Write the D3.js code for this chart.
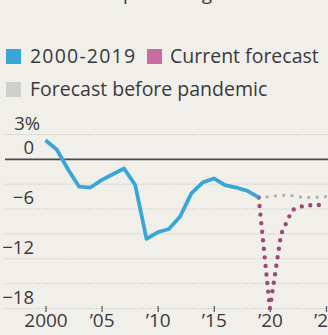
<!DOCTYPE html>
<html>
<head>
<meta charset="utf-8">
<script src="https://cdn.jsdelivr.net/npm/d3@7"></script>
<style>
  html, body { margin: 0; padding: 0; background: #f1efea; }
  svg { display: block; }
  text { font-family: "Open Sans", "Noto Sans", sans-serif; fill: #3a3a3a; }
</style>
</head>
<body>
<svg id="chart" width="328" height="335"></svg>
<script>
// Federal budget balance, percent of GDP
const histYears = [2000, 2001, 2002, 2003, 2004, 2005, 2006, 2007, 2008, 2009,
                   2010, 2011, 2012, 2013, 2014, 2015, 2016, 2017, 2018, 2019];
const histValues = [2.3, 1.2, -1.2, -3.3, -3.4, -2.5, -1.8, -1.1, -3.1, -9.6,
                    -8.8, -8.4, -6.9, -4.1, -2.8, -2.3, -3.1, -3.4, -3.8, -4.6];

const forecastYears = [2019, 2020, 2021, 2022, 2023, 2024, 2025];
const currentForecast = [-4.6, -18.0, -9.0, -6.1, -5.6, -5.5, -5.5];
const priorForecast = [-4.6, -4.5, -4.3, -4.4, -4.6, -4.6, -4.5];

const gridValues = [3, 0, -3, -6, -9, -12, -15, -18];
const yLabelValues = [3, 0, -6, -12, -18];
const xTickYears = [2000, 2005, 2010, 2015, 2020, 2025];
const xTickLabels = ["2000", "\u201905", "\u201910", "\u201915", "\u201920", "\u201925"];

const legendItems = [
  { label: "2000-2019", color: "#3aa6d6" },
  { label: "Current forecast", color: "#c96c9f" },
  { label: "Forecast before pandemic", color: "#cfcfcc" }
];

const svg = d3.select("#chart");

const x = d3.scaleLinear().domain([2000, 2025]).range([45.5, 326]);
const y = d3.scaleLinear().domain([-18, 3]).range([308.5, 134.5]);

// Subtitle line, running off the top edge
svg.append("text")
  .attr("x", 83).attr("y", 0)
  .attr("font-size", 19)
  .attr("fill", "#444")
  .text("as a percentage of GDP");

// Legend
const legendPos = [[6, 49, 30, 63], [147, 49, 170, 63], [6, 82, 30, 96]];
legendItems.forEach((d, i) => {
  const [sx, sy, tx, ty] = legendPos[i];
  svg.append("rect").attr("x", sx).attr("y", sy)
    .attr("width", 15).attr("height", 15).attr("fill", d.color);
  svg.append("text").attr("x", tx).attr("y", ty)
    .attr("font-size", 19.5).attr("fill", "#3a3a3a")
    .attr("letter-spacing", i === 0 ? 1.2 : 0)
    .text(d.label);
});

// Gridlines
svg.append("g").selectAll("line")
  .data(gridValues.filter(v => v !== 0))
  .join("line")
  .attr("x1", 5).attr("x2", 328)
  .attr("y1", d => y(d)).attr("y2", d => y(d))
  .attr("stroke", "#c6c4bf")
  .attr("stroke-width", 1)
  .attr("stroke-dasharray", "1.2 1.4");

// Y labels
svg.append("g").selectAll("text")
  .data(yLabelValues)
  .join("text")
  .attr("x", d => d === 3 ? 40 : 34)
  .attr("y", d => y(d) - 5)
  .attr("font-size", 18.5)
  .attr("text-anchor", "end")
  .text(d => d === 3 ? "3%" : (d < 0 ? "\u2212" + Math.abs(d) : String(d)));

// X axis ticks and labels
const xAxis = d3.axisBottom(x)
  .tickValues(xTickYears)
  .tickFormat((d, i) => xTickLabels[i])
  .tickSize(6)
  .tickPadding(2);
const xg = svg.append("g").attr("transform", `translate(0,${y(-18) - 2.5})`).call(xAxis);
xg.select(".domain").remove();
xg.selectAll(".tick line").attr("stroke", "#555").attr("stroke-width", 1.2);
xg.selectAll(".tick text").attr("font-size", 19).attr("fill", "#3a3a3a")
  .attr("font-family", "'Open Sans', 'Noto Sans', sans-serif");

// Zero line
svg.append("line")
  .attr("x1", 5).attr("x2", 328)
  .attr("y1", y(0)).attr("y2", y(0))
  .attr("stroke", "#4a4a4a").attr("stroke-width", 1.6);

const line = d3.line().x(d => x(d[0])).y(d => y(d[1]));

// Forecast before pandemic
svg.append("path")
  .datum(d3.zip(forecastYears, priorForecast))
  .attr("d", line)
  .attr("fill", "none")
  .attr("stroke", "#b2b0ab")
  .attr("stroke-width", 3.4)
  .attr("stroke-linecap", "round")
  .attr("stroke-dasharray", "0 8.4");

// Current forecast
svg.append("path")
  .datum(d3.zip(forecastYears, currentForecast))
  .attr("d", line)
  .attr("fill", "none")
  .attr("stroke", "#9c4a7b")
  .attr("stroke-width", 4.4)
  .attr("stroke-linecap", "round")
  .attr("stroke-dasharray", "0 8.6");

// 2000-2019 history
svg.append("path")
  .datum(d3.zip(histYears, histValues))
  .attr("d", line)
  .attr("fill", "none")
  .attr("stroke", "#3aa6d6")
  .attr("stroke-width", 3.8)
  .attr("stroke-linejoin", "round")
  .attr("stroke-linecap", "butt");
</script>
</body>
</html>
